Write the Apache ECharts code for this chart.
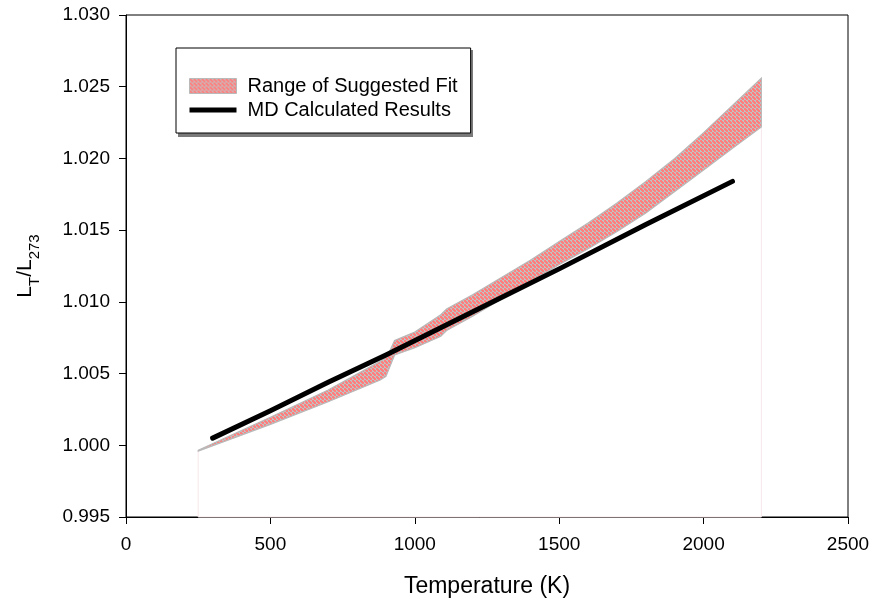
<!DOCTYPE html>
<html>
<head>
<meta charset="utf-8">
<script src="https://cdn.jsdelivr.net/npm/echarts@6/dist/echarts.min.js"></script>
<style>
  html, body { margin: 0; background: #fff; }
  #chart { width: 874px; height: 603px; }
</style>
</head>
<body>
<div id="chart"></div>
<script>
// upper / lower edge of the suggested-fit band
const upperT = [250, 500, 700, 880, 905, 930, 1000, 1090, 1110, 1200, 1300, 1400, 1500, 1600, 1700, 1800, 1900, 2000, 2100, 2200];
const upperV = [0.99965, 1.00195, 1.00386, 1.00585, 1.0062, 1.0073, 1.0079, 1.0091, 1.0095, 1.0105, 1.0117, 1.0129, 1.0142, 1.0155, 1.0169, 1.0184, 1.0200, 1.0218, 1.0237, 1.0256];
const lowerT = [250, 500, 700, 880, 900, 930, 1000, 1090, 1110, 1200, 1300, 1400, 1500, 1600, 1700, 1800, 1900, 2000, 2100, 2200];
const lowerV = [0.9996, 1.00146, 1.00304, 1.00455, 1.0048, 1.0063, 1.0068, 1.0076, 1.0080, 1.0090, 1.0102, 1.0114, 1.0126, 1.0137, 1.0149, 1.0162, 1.0177, 1.0192, 1.0207, 1.0222];
// MD results
const mdT = [300, 500, 700, 900, 1100, 1300, 1500, 1800, 2100];
const mdV = [1.0005, 1.0024, 1.0044, 1.0063, 1.0083, 1.0103, 1.0123, 1.0154, 1.0184];

const yMin = 0.995, yMax = 1.030, yStep = 0.005;
const xMin = 0, xMax = 2500, xStep = 500;

const font = "'Liberation Sans', Arial, sans-serif";

function makePattern() {
  const c = document.createElement('canvas');
  c.width = 4; c.height = 4;
  const g = c.getContext('2d');
  g.fillStyle = '#c2c2c2';
  g.fillRect(0, 0, 4, 4);
  g.fillStyle = '#ff7f7f';
  g.fillRect(0, 0, 2, 2);
  g.fillRect(2, 2, 2, 2);
  g.fillRect(1, 1, 2, 2);
  return { image: c, repeat: 'repeat' };
}
const pattern = makePattern();

const chart = echarts.init(document.getElementById('chart'));

const option = {
  animation: false,
  textStyle: { fontFamily: font },
  grid: { left: 126, right: 26, top: 15, bottom: 86, show: true, borderColor: '#000', borderWidth: 1 },
  graphic: [{
    // legend drop shadow
    type: 'rect', left: 178, top: 50, z: 3, silent: true,
    shape: { width: 295, height: 87 },
    style: { fill: '#7a7a7a' }
  }],
  legend: {
    orient: 'vertical',
    left: 176,
    top: 48,
    z: 5,
    backgroundColor: '#fff',
    borderColor: '#000',
    borderWidth: 1,
    padding: [28, 13, 13, 13],
    itemWidth: 47,
    itemHeight: 15,
    itemGap: 4,
    textStyle: { fontSize: 20, color: '#000', fontFamily: font, padding: [0, 0, 0, 6] },
    data: [
      { name: 'Range of Suggested Fit', icon: 'rect', itemStyle: { color: pattern, borderColor: '#b9b9b9', borderWidth: 1 } },
      { name: 'MD Calculated Results', icon: 'path://M0,0h47v5H0z', itemStyle: { color: '#000' } }
    ]
  },
  xAxis: {
    type: 'value',
    min: xMin, max: xMax, interval: xStep,
    name: 'Temperature (K)',
    nameLocation: 'middle',
    nameGap: 58,
    nameTextStyle: { fontSize: 23, color: '#000', fontFamily: font },
    axisLine: { lineStyle: { color: '#000', width: 1 } },
    axisTick: { inside: false, length: 7, lineStyle: { color: '#000' } },
    axisLabel: { fontSize: 19, color: '#000', margin: 18, fontFamily: font, formatter: v => String(v) },
    splitLine: { show: false }
  },
  yAxis: {
    type: 'value',
    min: yMin, max: yMax, interval: yStep,
    name: '{a|L}{s|T}{a|/L}{s|273}',
    nameLocation: 'middle',
    nameRotate: 90,
    nameGap: 84,
    nameTextStyle: {
      color: '#000',
      rich: {
        a: { fontSize: 21, fontFamily: font, color: '#000', verticalAlign: 'top', lineHeight: 27 },
        s: { fontSize: 15, fontFamily: font, color: '#000', verticalAlign: 'bottom', lineHeight: 27 }
      }
    },
    axisLine: { show: true, lineStyle: { color: '#000', width: 1 } },
    axisTick: { show: true, inside: false, length: 7, lineStyle: { color: '#000' } },
    axisLabel: { fontSize: 19, color: '#000', margin: 16, fontFamily: font, formatter: v => v.toFixed(3) },
    splitLine: { show: false }
  },
  series: [
    {
      // white region under the band down to the x axis
      type: 'custom',
      silent: true,
      z: 1,
      data: [[lowerT[0], lowerV[0]]],
      renderItem: function (params, api) {
        const pts = lowerT.map((t, i) => api.coord([t, lowerV[i]]));
        pts.push(api.coord([lowerT[lowerT.length - 1], yMin]));
        pts.push(api.coord([lowerT[0], yMin]));
        return { type: 'polygon', shape: { points: pts }, style: { fill: '#fff', stroke: '#f7e6e9', lineWidth: 1 } };
      }
    },
    {
      name: 'Range of Suggested Fit',
      type: 'custom',
      z: 2,
      itemStyle: { color: pattern, borderColor: '#b9b9b9' },
      data: [[upperT[0], upperV[0]]],
      renderItem: function (params, api) {
        const pts = upperT.map((t, i) => api.coord([t, upperV[i]]));
        for (let i = lowerT.length - 1; i >= 0; i--) pts.push(api.coord([lowerT[i], lowerV[i]]));
        return { type: 'polygon', shape: { points: pts }, style: { fill: pattern, stroke: '#b9b9b9', lineWidth: 1.2 } };
      }
    },
    {
      name: 'MD Calculated Results',
      type: 'line',
      z: 3,
      symbol: 'none',
      showSymbol: false,
      lineStyle: { color: '#000', width: 5, cap: 'round', join: 'round' },
      itemStyle: { color: '#000' },
      data: mdT.map((t, i) => [t, mdV[i]])
    }
  ]
};

chart.setOption(option);
</script>
</body>
</html>
